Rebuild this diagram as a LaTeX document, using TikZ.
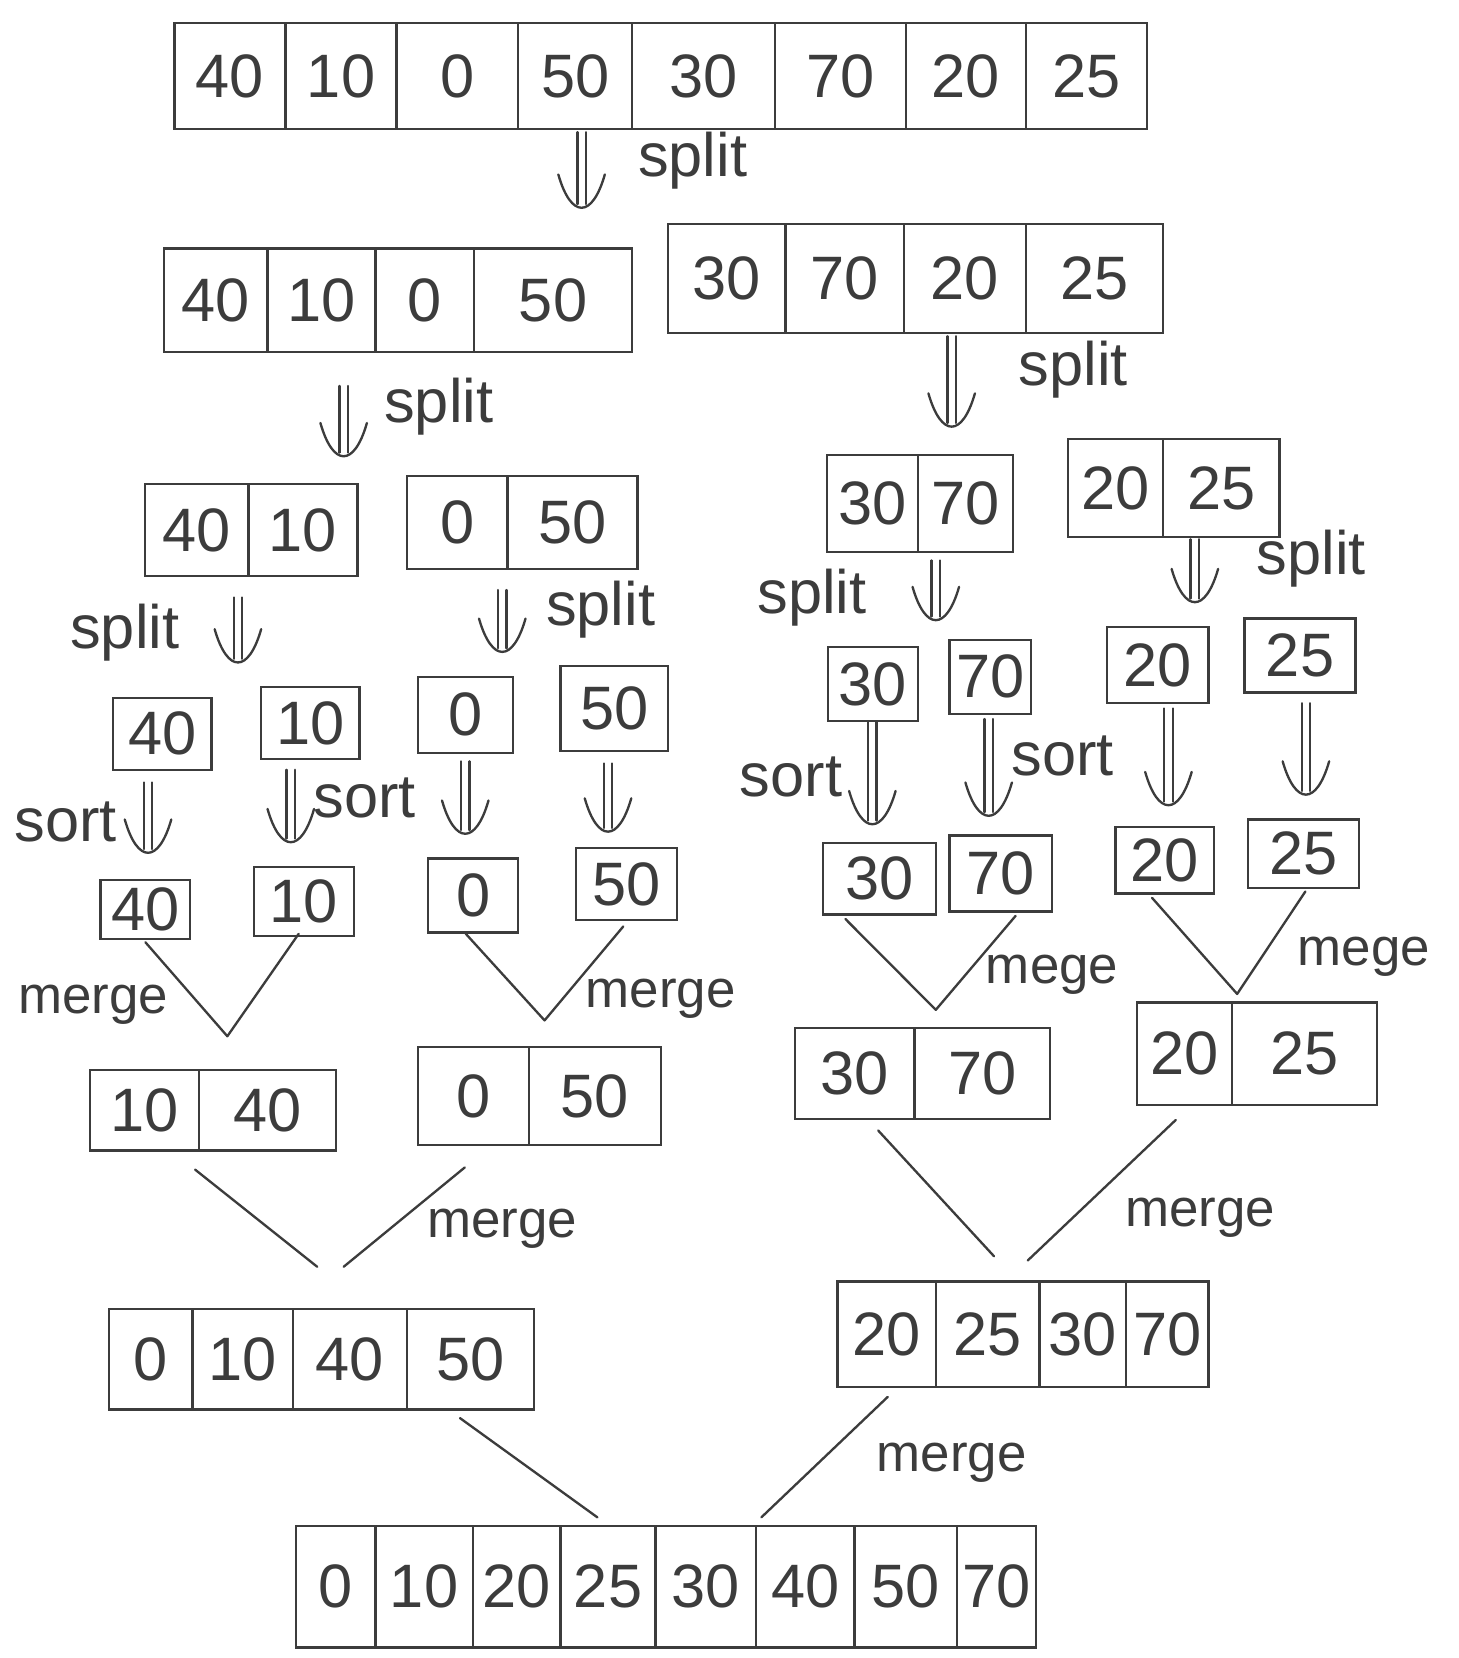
\documentclass[tikz,border=0pt]{standalone}
\usepackage{fontspec}
\setmainfont{Liberation Sans}
\usetikzlibrary{calc}
\definecolor{ink}{HTML}{3C3C3C}
\tikzset{
  cell/.style={draw=ink, line width=1.1pt, inner sep=0pt, text=ink, anchor=center,
               font=\fontsize{29}{29}\selectfont},
  lbl/.style={text=ink, font=\fontsize{29}{29}\selectfont, inner sep=0pt},
  mlbl/.style={lbl, font=\fontsize{25}{25}\selectfont},
  wire/.style={draw=ink, line width=1.1pt, line cap=round, line join=round},
}
% one array: name, top, bottom, list of left/right/value
\newcommand\arrcells[4]{%
  \foreach \xa/\xb/\v [count=\i] in {#4} {
    \node[cell, minimum width={(\xb-\xa)*0.5pt}, minimum height={(#3-#2)*0.5pt}]
      (#1-\i) at ({(\xa+\xb)/2},{(#2+#3)/2}) {\v};
  }%
}
% hand-style double arrow from #1 down to #2
\newcommand\dblarrow[2]{%
  \draw[wire] ($(#1)+(-4,0)$) -- ($(#2)+(-4,-2)$);
  \draw[wire] ($(#1)+(4,0)$) -- ($(#2)+(4,-2)$);
  \draw[wire] ($(#2)+(-22,-30)$) .. controls ($(#2)+(-10,12)$) and ($(#2)+(10,12)$) .. ($(#2)+(22,-30)$);
}
\begin{document}
\begin{tikzpicture}[x=0.5pt, y=-0.5pt]
\fill[white] (0,0) rectangle (1379,1568);
\useasboundingbox (0,0) rectangle (1379,1568);

% ---- arrays ----
\arrcells{A}{22}{122}{165/270/40, 270/375/10, 375/490/0, 490/598/50, 598/733/30, 733/857/70, 857/970/20, 970/1085/25}
\arrcells{B}{235}{333}{155/253/40, 253/355/10, 355/448/0, 448/598/50}
\arrcells{C}{212}{315}{632/743/30, 743/855/70, 855/970/20, 970/1100/25}
\arrcells{D}{458}{545}{137/235/40, 235/338/10}
\arrcells{E}{450}{538}{385/480/0, 480/603/50}
\arrcells{F}{430}{522}{782/868/30, 868/958/70}
\arrcells{G}{415}{508}{1010/1100/20, 1100/1210/25}

\arrcells{Ha}{660}{728}{107/200/40}
\arrcells{Hb}{650}{718}{247/340/10}
\arrcells{Hc}{640}{712}{395/485/0}
\arrcells{Hd}{630}{710}{530/632/50}
\arrcells{He}{612}{682}{783/868/30}
\arrcells{Hf}{605}{675}{898/975/70}
\arrcells{Hg}{593}{665}{1047/1143/20}
\arrcells{Hh}{585}{655}{1177/1282/25}

\arrcells{Ja}{832}{888}{95/180/40}
\arrcells{Jb}{820}{885}{240/335/10}
\arrcells{Jc}{812}{882}{405/490/0}
\arrcells{Jd}{802}{870}{545/640/50}
\arrcells{Je}{797}{865}{778/885/30}
\arrcells{Jf}{790}{862}{898/995/70}
\arrcells{Jg}{782}{845}{1055/1148/20}
\arrcells{Jh}{775}{840}{1180/1285/25}

\arrcells{K}{1012}{1088}{85/188/10, 188/318/40}
\arrcells{L}{990}{1083}{395/500/0, 500/625/50}
\arrcells{M}{972}{1058}{752/865/30, 865/993/70}
\arrcells{N}{948}{1045}{1075/1165/20, 1165/1302/25}

\arrcells{P}{1238}{1333}{103/182/0, 182/277/10, 277/385/40, 385/505/50}
\arrcells{Q}{1212}{1312}{792/885/20, 885/983/25, 983/1065/30, 1065/1143/70}

\arrcells{R}{1443}{1558}{280/355/0, 355/447/10, 447/530/20, 530/620/25, 620/715/30, 715/808/40, 808/905/50, 905/980/70}

% ---- split / sort arrows ----
\coordinate (s1a) at (550,125);  \coordinate (s1b) at (550,195);
\coordinate (s2a) at (325,365);  \coordinate (s2b) at (325,430);
\coordinate (s3a) at (900,318);  \coordinate (s3b) at (900,402);
\coordinate (s4a) at (225,565);  \coordinate (s4b) at (225,625);
\coordinate (s5a) at (475,558);  \coordinate (s5b) at (475,615);
\coordinate (s6a) at (885,530);  \coordinate (s6b) at (885,585);
\coordinate (s7a) at (1130,510); \coordinate (s7b) at (1130,568);
\coordinate (t1a) at (140,740);  \coordinate (t1b) at (140,805);
\coordinate (t2a) at (275,728);  \coordinate (t2b) at (275,795);
\coordinate (t3a) at (440,720);  \coordinate (t3b) at (440,787);
\coordinate (t4a) at (575,722);  \coordinate (t4b) at (575,785);
\coordinate (t5a) at (825,683);  \coordinate (t5b) at (825,778);
\coordinate (t6a) at (935,680);  \coordinate (t6b) at (935,770);
\coordinate (t7a) at (1105,670); \coordinate (t7b) at (1105,760);
\coordinate (t8a) at (1235,665); \coordinate (t8b) at (1235,750);
\foreach \n in {s1,s2,s3,s4,s5,s6,s7,t1,t2,t3,t4,t5,t6,t7,t8}
  {\dblarrow{\n a}{\n b}}

\node[lbl] (ls1) at (655,152) {split};
\node[lbl] (ls2) at (415,385) {split};
\node[lbl] (ls3) at (1015,350) {split};
\node[lbl] (ls4) at (118,598) {split};
\node[lbl] (ls5) at (568,577) {split};
\node[lbl] (ls6) at (768,565) {split};
\node[lbl] (ls7) at (1240,528) {split};
\node[lbl] (lt1) at (62,777) {sort};
\node[lbl] (lt2) at (345,755) {sort};
\node[lbl] (lt5) at (748,735) {sort};
\node[lbl] (lt6) at (1005,715) {sort};

% ---- merge joins ----
\coordinate (v1) at (215,980);
\coordinate (v2) at (515,965);
\coordinate (v3) at (885,955);
\coordinate (v4) at (1170,940);
\coordinate (v5a) at (300,1198); \coordinate (v5b) at (325,1198);
\coordinate (v6a) at (940,1188); \coordinate (v6b) at (972,1192);
\coordinate (v7a) at (565,1435); \coordinate (v7b) at (720,1435);

\draw[wire] ($(Ja-1.south)+(0,2)$) -- (v1) -- ($(Jb-1.south)+(-5,-3)$);
\draw[wire] ($(Jc-1.south)+(-7,0)$) -- (v2) -- ($(Jd-1.south)+(-3,5)$);
\draw[wire] ($(Je-1.south)+(-32,3)$) -- (v3) -- ($(Jf-1.south)+(14,3)$);
\draw[wire] ($(Jg-1.south)+(-12,3)$) -- (v4) -- ($(Jh-1.south)+(2,2)$);
\draw[wire] ($(K-1.south)+(48,17)$) -- (v5a);
\draw[wire] ($(L-1.south)+(-8,20)$) -- (v5b);
\draw[wire] ($(M-1.south)+(22,10)$) -- (v6a);
\draw[wire] ($(N-1.south)+(-8,13)$) -- (v6b);
\draw[wire] ($(P-4.south)+(-10,7)$) -- (v7a);
\draw[wire] ($(Q-1.south)+(1,8)$) -- (v7b);

\node[mlbl] (lm1) at (88,950) {merge};
\node[mlbl] (lm2) at (625,945) {merge};
\node[mlbl] (lm3) at (995,922) {mege};
\node[mlbl] (lm4) at (1290,905) {mege};
\node[mlbl] (lm5) at (475,1162) {merge};
\node[mlbl] (lm6) at (1135,1152) {merge};
\node[mlbl] (lm7) at (900,1383) {merge};
\end{tikzpicture}
\end{document}
